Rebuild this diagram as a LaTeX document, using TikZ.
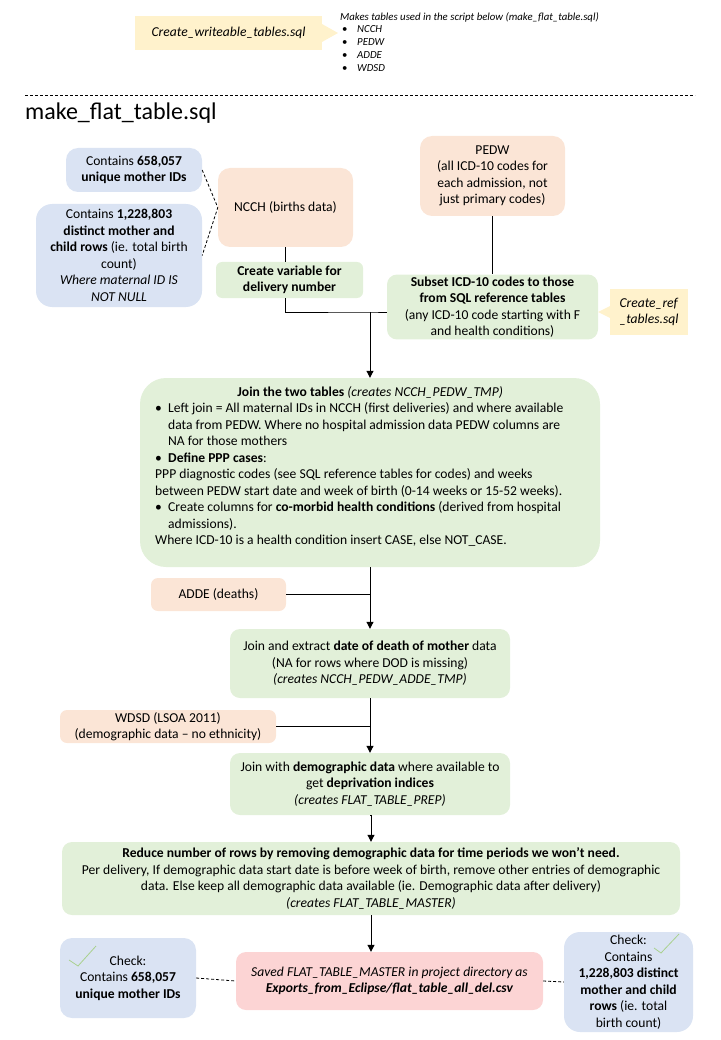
\documentclass[tikz,border=0pt]{standalone}
\usepackage{fontspec}
\setmainfont{Carlito}
\usetikzlibrary{arrows.meta}
\definecolor{lblue}{HTML}{DAE3F3}
\definecolor{peach}{HTML}{FBE5D6}
\definecolor{lgreen}{HTML}{E2F0D9}
\definecolor{lyellow}{HTML}{FFF2CC}
\definecolor{lpink}{HTML}{FCD4D4}
\definecolor{tickgreen}{HTML}{A9D18E}
\begin{document}
\begin{tikzpicture}[x=1pt,y=-1pt,
  every node/.style={font=\fontsize{13.6}{16.5}\selectfont,align=center,inner sep=2pt},
  sz/.style n args={2}{minimum width=#1pt,minimum height=#2pt},
  srcbox/.style={fill=peach,rounded corners=12pt},
  stepbox/.style={fill=lgreen,rounded corners=10pt},
  notebox/.style={fill=lblue,rounded corners=12pt},
  scriptbox/.style={fill=lyellow},
  savebox/.style={fill=lpink,rounded corners=10pt},
  link/.style={line width=1pt},
  flow/.style={line width=1pt,-{Triangle[width=7pt,length=7pt]}},
  dotlink/.style={line width=0.8pt,dash pattern=on 3pt off 2pt},
  tick/.style={draw=tickgreen,line width=0.8pt}]
\useasboundingbox (0,0) rectangle (720,1040);
% header
\node[scriptbox,sz={187}{34}] (mkw) at (228.5,33) {\textit{Create\_writeable\_tables.sql}};
\fill[lyellow] (322,24) -- (338,33) -- (322,42) -- cycle;
\node[anchor=north west,align=left,inner sep=0,font=\fontsize{10.8}{12.8}\selectfont\itshape] (mkwnote) at (340,12)
  {Makes tables used in the script below (make\_flat\_table.sql)\\
   \hspace*{2pt}\makebox[15pt][l]{\upshape\textbullet}NCCH\\
   \hspace*{2pt}\makebox[15pt][l]{\upshape\textbullet}PEDW\\
   \hspace*{2pt}\makebox[15pt][l]{\upshape\textbullet}ADDE\\
   \hspace*{2pt}\makebox[15pt][l]{\upshape\textbullet}WDSD};
\draw[dash pattern=on 3pt off 2pt,line width=0.8pt] (25,95) -- (695,95);
\node[anchor=base west,inner sep=0,font=\fontsize{24}{28}\selectfont] (title) at (25,120) {make\_flat\_table.sql};
% sources
\node[notebox,sz={136}{44}] (ids) at (134,170) {Contains \textbf{658,057}\\ \textbf{unique mother IDs}};
\node[notebox,sz={166}{103},rounded corners=16pt] (rows) at (119,255.5)
  {Contains \textbf{1,228,803}\\ \textbf{distinct mother and}\\ \textbf{child rows} (ie. total birth\\ count)\\ \textit{Where maternal ID IS}\\ \textit{NOT NULL}};
\node[srcbox,sz={135}{79}] (ncch) at (285.5,207.5) {NCCH (births data)};
\node[stepbox,sz={147}{36},rounded corners=6pt] (delnum) at (289.5,280) {\textbf{Create variable for}\\ \textbf{delivery number}};
\node[srcbox,sz={145}{80}] (pedw) at (492.5,176) {PEDW\\ (all ICD-10 codes for\\ each admission, not\\ just primary codes)};
\node[stepbox,sz={211}{62}] (subset) at (492.5,307)
  {\textbf{Subset ICD-10 codes to those}\\ \textbf{from SQL reference tables}\\ (any ICD-10 code starting with F\\ and health conditions)};
\node[scriptbox,sz={78}{46}] (refsql) at (649,312) {\textit{Create\_ref}\\ \textit{\_tables.sql}};
\fill[lyellow] (610,306) -- (598,312) -- (610,318) -- cycle;
% main steps
\node[stepbox,sz={460}{189},rounded corners=26pt] (join) at (370,472.5) {};
\node[anchor=north west,align=left,inner sep=0] (jointxt) at (155,386)
  {\makebox[430pt]{\textbf{Join the two tables} \textit{(creates NCCH\_PEDW\_TMP)}}\\
   \makebox[13pt][l]{\textbullet}Left join = All maternal IDs in NCCH (first deliveries) and where available\\
   \hspace*{13pt}data from PEDW. Where no hospital admission data PEDW columns are\\
   \hspace*{13pt}NA for those mothers\\
   \makebox[13pt][l]{\textbullet}\textbf{Define PPP cases}:\\
   PPP diagnostic codes (see SQL reference tables for codes) and weeks\\
   between PEDW start date and week of birth (0-14 weeks or 15-52 weeks).\\
   \makebox[13pt][l]{\textbullet}Create columns for \textbf{co-morbid health conditions} (derived from hospital\\
   \hspace*{13pt}admissions).\\
   Where ICD-10 is a health condition insert CASE, else NOT\_CASE.};
\node[srcbox,sz={135}{33},rounded corners=7pt] (adde) at (218.5,594.5) {ADDE (deaths)};
\node[stepbox,sz={280}{69}] (death) at (370,663.5)
  {Join and extract \textbf{date of death of mother} data\\ (NA for rows where DOD is missing)\\ \textit{(creates NCCH\_PEDW\_ADDE\_TMP)}};
\node[srcbox,sz={216}{33},rounded corners=7pt] (wdsd) at (168,726.5) {WDSD (LSOA 2011)\\ (demographic data -- no ethnicity)};
\node[stepbox,sz={280}{62}] (demog) at (370,784)
  {Join with \textbf{demographic data} where available to\\ get \textbf{deprivation indices}\\ \textit{(creates FLAT\_TABLE\_PREP)}};
\node[stepbox,sz={618}{73}] (reduce) at (371,878.5)
  {\textbf{Reduce number of rows by removing demographic data for time periods we won’t need.}\\
   Per delivery, If demographic data start date is before week of birth, remove other entries of demographic\\
   data. Else keep all demographic data available (ie. Demographic data after delivery)\\
   \textit{(creates FLAT\_TABLE\_MASTER)}};
\node[savebox,sz={307}{58}] (saved) at (389.5,981)
  {\textit{Saved FLAT\_TABLE\_MASTER in project directory as}\\ \textbf{\textit{Exports\_from\_Eclipse/flat\_table\_all\_del.csv}}};
\node[notebox,sz={136}{80}] (chk1) at (128,978) {Check:\\ Contains \textbf{658,057}\\ \textbf{unique mother IDs}};
\node[notebox,sz={129}{100},rounded corners=16pt] (chk2) at (628.5,982)
  {Check:\\ Contains\\ \textbf{1,228,803 distinct}\\ \textbf{mother and child}\\ \textbf{rows} (ie. total\\ birth count)};
\draw[tick] (69,960) -- (78,966) -- (96,946);
\draw[tick] (654,948) -- (661,953) -- (679,934);
% connectors
\coordinate (mrg1) at (370,312);
\draw[dotlink] (ids.east) -- (ncch.west) -- (rows.east);
\draw[link] (ncch.south) -- (ncch.south |- delnum.north);
\draw[link] (ncch.south |- delnum.south) |- (mrg1) -- (mrg1 -| subset.west);
\draw[link] (pedw.south) -- (subset.north);
\draw[flow] (mrg1) -- (join.north);
\draw[flow] (join.south) -- (death.north);
\draw[link] (adde.east) -- (adde.east -| join.south);
\draw[flow] (death.south) -- (demog.north);
\draw[link] (wdsd.east) -- (wdsd.east -| death.south);
\draw[flow] (demog.south) -- (reduce.north |- demog.south) -- (reduce.north);
\draw[flow] (reduce.south) -- (reduce.south |- saved.north);
\draw[dotlink] (chk1.east) -- (saved.west);
\draw[dotlink] (saved.east) -- (chk2.west);
\end{tikzpicture}
\end{document}
